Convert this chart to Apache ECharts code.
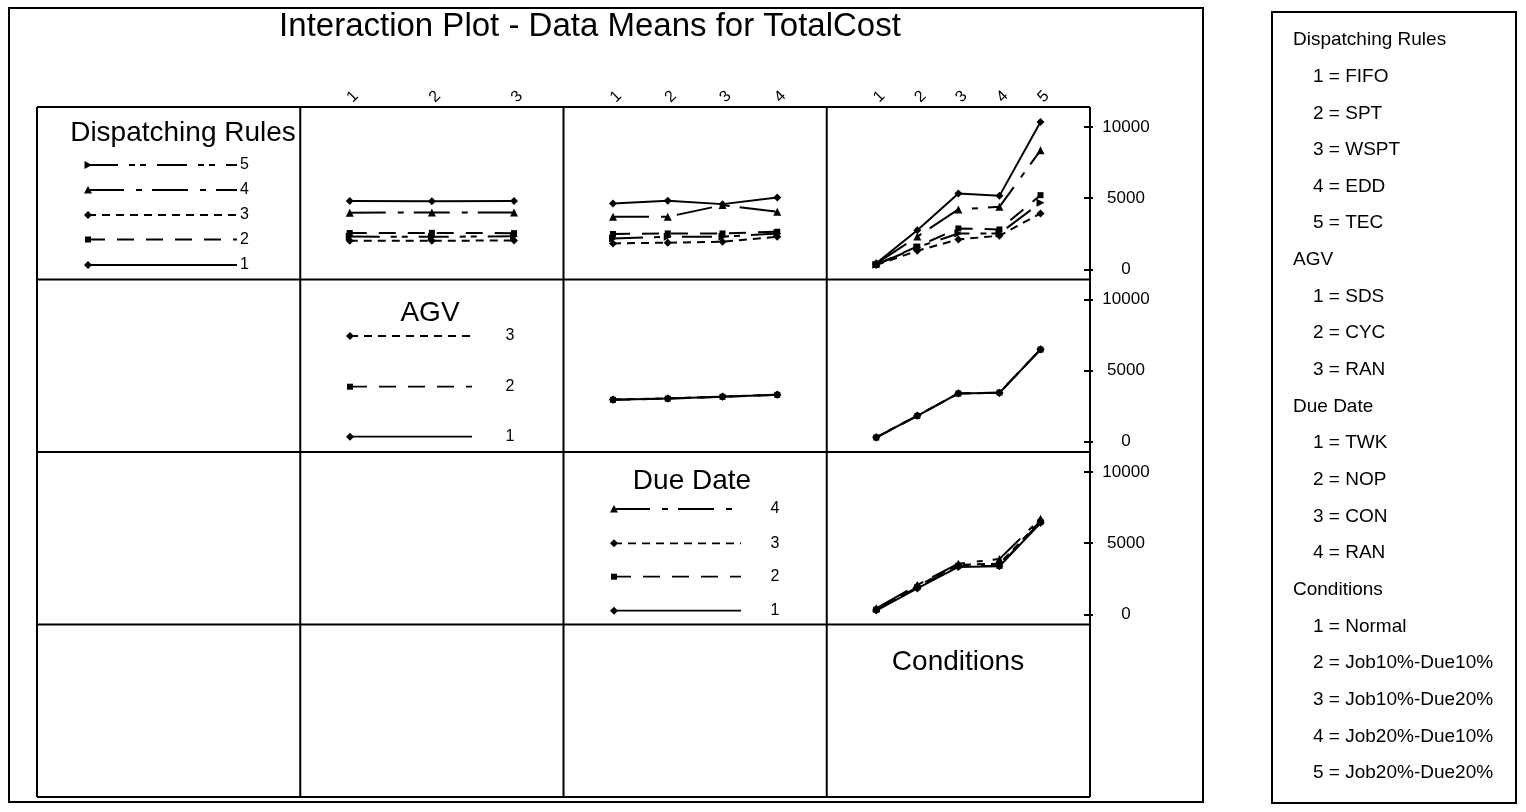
<!DOCTYPE html>
<html>
<head>
<meta charset="utf-8">
<script src="https://cdn.jsdelivr.net/npm/echarts@6/dist/echarts.min.js"></script>
<style>
  html, body { margin: 0; padding: 0; background: #fff; }
  #chart { width: 1526px; height: 812px; }
</style>
</head>
<body>
<div id="chart"></div>
<script>
// Factor levels
const ruleLevels = ['1', '2', '3', '4', '5'];
const agvLevels = ['1', '2', '3'];
const dueLevels = ['1', '2', '3', '4'];
const condLevels = ['1', '2', '3', '4', '5'];
const valueTicks = [0, 5000, 10000];

// Mean TotalCost: one row per level of the line factor, one column per level of the x factor
const ruleByAgv = [
  [4800, 4790, 4800],
  [2550, 2560, 2540],
  [2000, 2010, 2020],
  [3980, 3990, 3990],
  [2300, 2280, 2320]
];
const ruleByDue = [
  [4630, 4810, 4580, 5050],
  [2480, 2520, 2520, 2640],
  [1820, 1870, 1940, 2290],
  [3690, 3690, 4510, 4050],
  [2170, 2290, 2290, 2520]
];
const ruleByCond = [
  [420, 2750, 5330, 5160, 10350],
  [330, 1600, 2870, 2800, 5210],
  [300, 1300, 2100, 2360, 3930],
  [400, 2300, 4210, 4390, 8360],
  [320, 1550, 2520, 2520, 4670]
];
const agvByDue = [
  [2960, 3040, 3170, 3310],
  [2950, 3030, 3160, 3300],
  [2970, 3050, 3180, 3320]
];
const agvByCond = [
  [310, 1830, 3400, 3440, 6490],
  [300, 1820, 3390, 3460, 6480],
  [320, 1840, 3410, 3430, 6500]
];
const dueByCond = [
  [260, 1820, 3330, 3370, 6420],
  [330, 1900, 3400, 3400, 6500],
  [350, 1980, 3480, 3560, 6560],
  [420, 2060, 3560, 3880, 6720]
];

// Key text
const keyLines = [
  ['Dispatching Rules', 0], ['1 = FIFO', 1], ['2 = SPT', 1], ['3 = WSPT', 1], ['4 = EDD', 1], ['5 = TEC', 1],
  ['AGV', 0], ['1 = SDS', 1], ['2 = CYC', 1], ['3 = RAN', 1],
  ['Due Date', 0], ['1 = TWK', 1], ['2 = NOP', 1], ['3 = CON', 1], ['4 = RAN', 1],
  ['Conditions', 0], ['1 = Normal', 1], ['2 = Job10%-Due10%', 1], ['3 = Job10%-Due20%', 1],
  ['4 = Job20%-Due10%', 1], ['5 = Job20%-Due20%', 1]
];

const FONT = '"Liberation Sans", Arial, sans-serif';

// Line and symbol style for each level (by index)
const levelStyles = [
  { dash: 'solid', symbol: 'diamond', size: 8, rotate: 0 },
  { dash: [17, 12], symbol: 'rect', size: 6, rotate: 0 },
  { dash: [8, 6], symbol: 'diamond', size: 8, rotate: 0 },
  { dash: [36, 12, 6, 10], symbol: 'triangle', size: 8, rotate: 0 },
  { dash: [30, 11, 6, 5, 6, 11], symbol: 'triangle', size: 8, rotate: -90 }
];

// Matrix layout
const G = { left: 37, top: 107, colW: 263.25, rowH: 172.5, cols: 4, rows: 4 };
const PAD_X = 49.5, PAD_TOP = 20, PLOT_H = 142.3;

const panels = [
  { row: 0, col: 1, levels: agvLevels, data: ruleByAgv, top: true },
  { row: 0, col: 2, levels: dueLevels, data: ruleByDue, top: true },
  { row: 0, col: 3, levels: condLevels, data: ruleByCond, top: true, right: true },
  { row: 1, col: 2, levels: dueLevels, data: agvByDue },
  { row: 1, col: 3, levels: condLevels, data: agvByCond, right: true },
  { row: 2, col: 3, levels: condLevels, data: dueByCond, right: true }
];

const grids = [], xAxes = [], yAxes = [], series = [];
panels.forEach((p, i) => {
  const x0 = G.left + p.col * G.colW, y0 = G.top + p.row * G.rowH;
  grids.push({ left: x0 + PAD_X, top: y0 + PAD_TOP, width: G.colW - 2 * PAD_X, height: PLOT_H });
  xAxes.push({
    type: 'category', gridIndex: i, data: p.levels, boundaryGap: false,
    position: 'top', offset: PAD_TOP,
    axisLine: { show: false }, axisTick: { show: false }, splitLine: { show: false },
    axisLabel: { show: !!p.top, rotate: 45, margin: 7, fontSize: 16, color: '#000', fontFamily: FONT, interval: 0 }
  });
  yAxes.push({
    type: 'value', gridIndex: i, min: 0, max: 10000, interval: 5000,
    show: !!p.right, position: 'right', offset: PAD_X - 6,
    axisLine: { show: false },
    axisTick: { show: true, length: 9, lineStyle: { color: '#000', width: 2 } },
    axisLabel: { margin: 42, align: 'center', fontSize: 17, color: '#000', fontFamily: FONT,
      formatter: v => String(v) },
    splitLine: { show: false }
  });
  p.data.forEach((vals, k) => {
    const s = levelStyles[k];
    series.push({
      type: 'line', xAxisIndex: i, yAxisIndex: i, data: vals, clip: false,
      symbol: s.symbol, symbolSize: s.size, symbolRotate: s.rotate, showSymbol: true,
      lineStyle: { color: '#000', width: 2, type: s.dash },
      itemStyle: { color: '#000', borderWidth: 0 },
      animation: false, silent: true, z: 10 - k
    });
  });
});

// Graphic helpers
function markerShape(kind, x, y) {
  const s = levelStyles[kind];
  if (s.symbol === 'rect') {
    return { type: 'rect', shape: { x: x - 3, y: y - 3, width: 6, height: 6 }, style: { fill: '#000' } };
  }
  if (s.symbol === 'diamond') {
    return { type: 'polygon', shape: { points: [[x, y - 4], [x + 4, y], [x, y + 4], [x - 4, y]] }, style: { fill: '#000' } };
  }
  if (s.rotate === -90) {
    return { type: 'polygon', shape: { points: [[x - 3.5, y - 4], [x + 4, y], [x - 3.5, y + 4]] }, style: { fill: '#000' } };
  }
  return { type: 'polygon', shape: { points: [[x - 4, y + 3.5], [x, y - 4], [x + 4, y + 3.5]] }, style: { fill: '#000' } };
}
function keyEntry(kind, x1, x2, y, label, lx, align) {
  const s = levelStyles[kind];
  return [
    { type: 'polyline', shape: { points: [[x1, y], [x2, y]] },
      style: { stroke: '#000', lineWidth: 1.8, lineDash: s.dash === 'solid' ? null : s.dash } },
    markerShape(kind, x1, y),
    { type: 'text', x: lx, y: y, style: { text: label, fill: '#000', font: '16px ' + FONT, align: align, verticalAlign: 'middle' } }
  ];
}
function heading(text, cx, cy, size) {
  return { type: 'text', x: cx, y: cy, style: { text: text, fill: '#000', font: size + 'px ' + FONT, align: 'center', verticalAlign: 'middle' } };
}

const graphics = [];
// Outer frame and key box
graphics.push({ type: 'rect', shape: { x: 9, y: 8, width: 1194, height: 794 }, style: { fill: null, stroke: '#000', lineWidth: 2 } });
graphics.push({ type: 'rect', shape: { x: 1272, y: 12, width: 244, height: 791 }, style: { fill: null, stroke: '#000', lineWidth: 2 } });
// Matrix lines
const gw = G.colW * G.cols, gh = G.rowH * G.rows;
for (let c = 0; c <= G.cols; c++) {
  const x = G.left + c * G.colW;
  graphics.push({ type: 'line', shape: { x1: x, y1: G.top, x2: x, y2: G.top + gh }, style: { stroke: '#000', lineWidth: 2 } });
}
for (let r = 0; r <= G.rows; r++) {
  const y = G.top + r * G.rowH;
  graphics.push({ type: 'line', shape: { x1: G.left, y1: y, x2: G.left + gw, y2: y }, style: { stroke: '#000', lineWidth: 2 } });
}
// Title
graphics.push(heading('Interaction Plot - Data Means for TotalCost', 590, 27, 33));

// Diagonal factor keys
graphics.push(heading('Dispatching Rules', 183, 133, 28));
[[4, 165], [3, 190], [2, 215], [1, 239.5], [0, 265]].forEach(([k, y]) => {
  graphics.push(...keyEntry(k, 88, 237, y, ruleLevels[k], 240, 'left'));
});
graphics.push(heading('AGV', 430, 313, 28));
[[2, 336], [1, 386.7], [0, 436.7]].forEach(([k, y]) => {
  graphics.push(...keyEntry(k, 350, 472, y, agvLevels[k], 510, 'center'));
});
graphics.push(heading('Due Date', 692, 481, 28));
[[3, 509], [2, 543.3], [1, 576.7], [0, 610.7]].forEach(([k, y]) => {
  graphics.push(...keyEntry(k, 614, 741, y, dueLevels[k], 775, 'center'));
});
graphics.push(heading('Conditions', 958, 662, 28));

// Level key on the right
keyLines.forEach(([t, indent], i) => {
  graphics.push({ type: 'text', x: indent ? 1313 : 1293, y: 40 + i * 36.65,
    style: { text: t, fill: '#000', font: '19px ' + FONT, align: 'left', verticalAlign: 'middle' } });
});

const chart = echarts.init(document.getElementById('chart'), null, { renderer: 'canvas' });
chart.setOption({
  backgroundColor: '#fff',
  animation: false,
  grid: grids,
  xAxis: xAxes,
  yAxis: yAxes,
  series: series,
  graphic: { elements: graphics }
});
</script>
</body>
</html>
